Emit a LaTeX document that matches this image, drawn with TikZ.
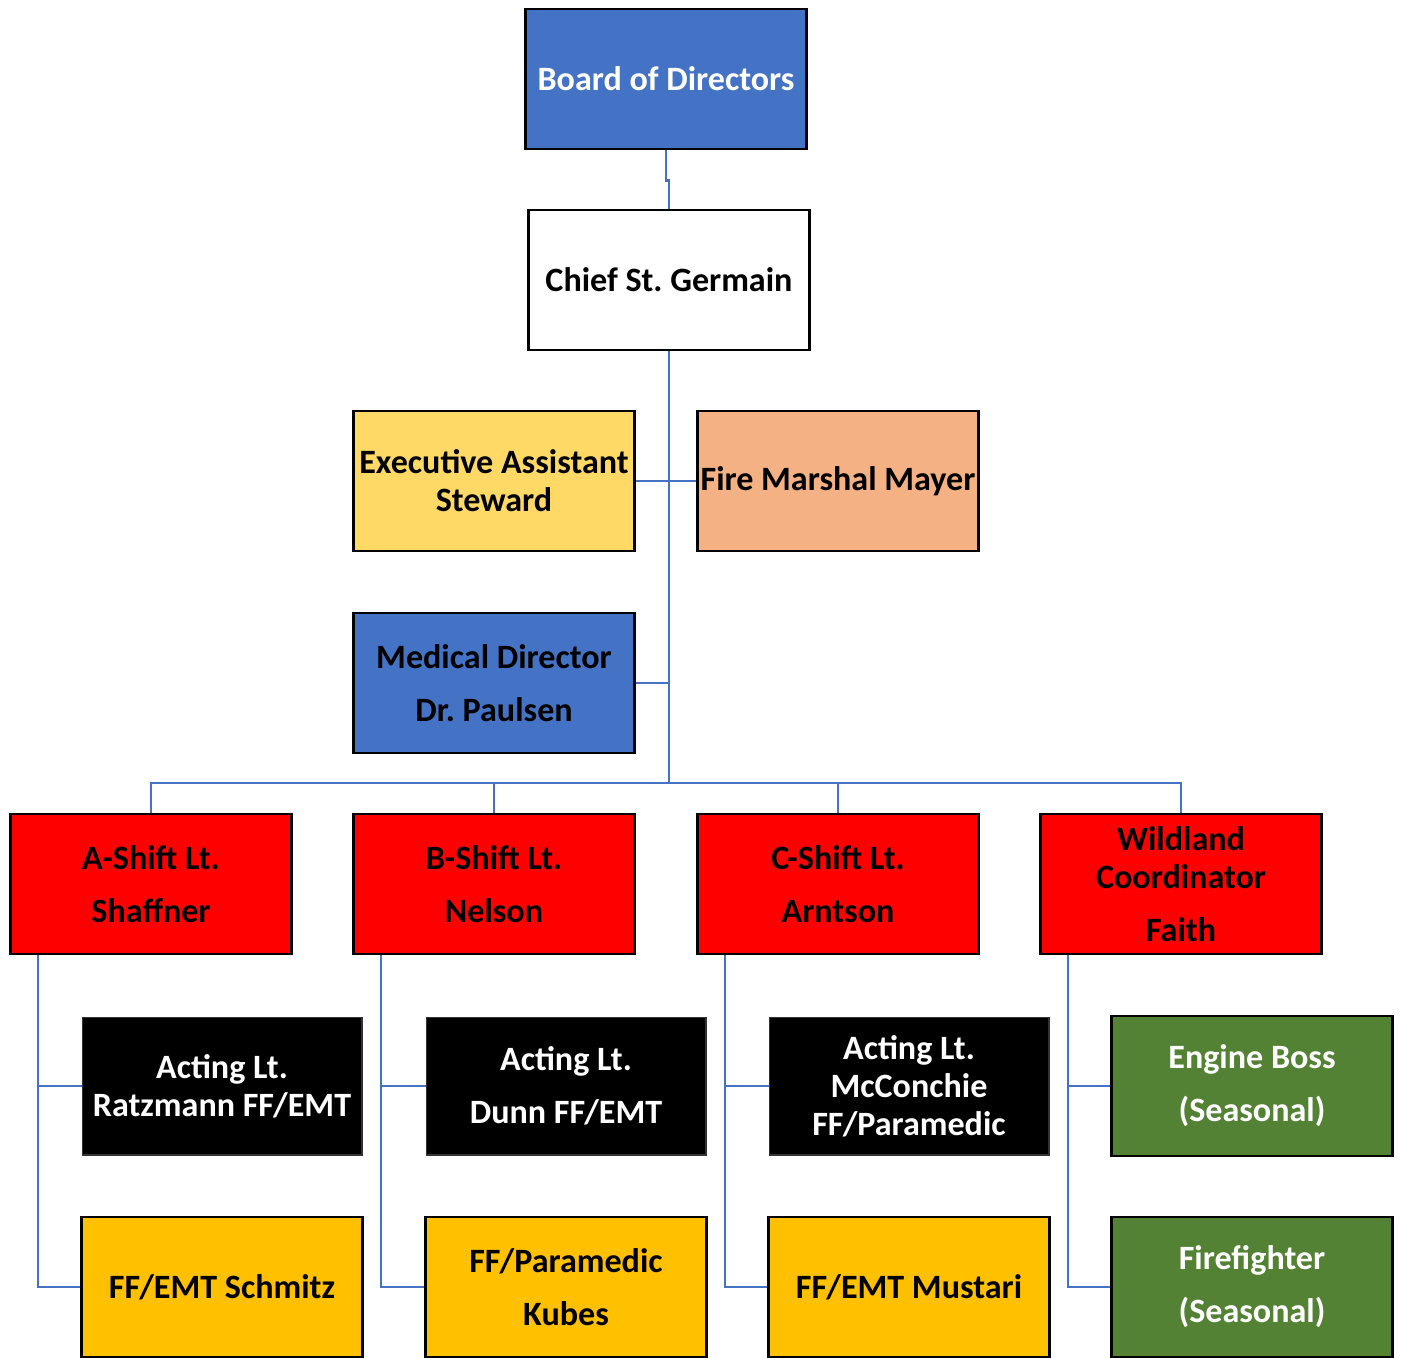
\documentclass[tikz,border=0pt]{standalone}
\usepackage{fontspec}
\setmainfont{Carlito}
\usetikzlibrary{backgrounds}

\definecolor{orgblue}{HTML}{4472C4}
\definecolor{execyellow}{HTML}{FFD966}
\definecolor{peach}{HTML}{F4B183}
\definecolor{shiftred}{HTML}{FF0000}
\definecolor{crewgold}{HTML}{FFC000}
\definecolor{wildgreen}{HTML}{548235}

\begin{document}
\begin{tikzpicture}[x=0.02cm, y=-0.02cm,
  box/.style={draw=black, line width=1.6pt, minimum width=5.62cm, minimum height=2.8cm,
    inner sep=0pt, align=center, font=\bfseries\fontsize{19.4}{21.6}\selectfont\frenchspacing},
  actbox/.style={box, fill=black, text=white, draw=black!80, line width=0.6pt,
    minimum width=5.6cm, minimum height=2.76cm},
  link/.style={draw=orgblue, line width=1.3pt}]
\clip (0,0) rectangle (1403,1357);
\coordinate (hub) at (669,783);
% top of the chart
\node[box, fill=orgblue, text=white] (board) at (666,79) {Board of Directors};
\node[box, fill=white] (chief) at (669,280) {Chief St. Germain};
\node[box, fill=execyellow] (exec) at (494,481) {Executive Assistant\\Steward};
\node[box, fill=peach] (marshal) at (838,481) {Fire Marshal Mayer};
\node[box, fill=orgblue] (medical) at (494,683) {Medical Director\\[8.6pt]Dr. Paulsen};
% shifts
\node[box, fill=shiftred] (shiftA) at (151,884) {A-Shift Lt.\\[8.6pt]Shaffner};
\node[box, fill=shiftred] (shiftB) at (494,884) {B-Shift Lt.\\[8.6pt]Nelson};
\node[box, fill=shiftred] (shiftC) at (838,884) {C-Shift Lt.\\[8.6pt]Arntson};
\node[box, fill=shiftred] (wild) at (1181,884) {Wildland\\Coordinator\\[8.6pt]Faith};
% crews
\node[actbox] (actA) at (222,1086) {Acting Lt.\\Ratzmann FF/EMT};
\node[actbox] (actB) at (566,1086) {Acting Lt.\\[8.6pt]Dunn FF/EMT};
\node[actbox] (actC) at (909,1086) {Acting Lt.\\McConchie\\FF/Paramedic};
\node[box, fill=wildgreen, text=white] (boss) at (1252,1086) {Engine Boss\\[8.6pt](Seasonal)};
\node[box, fill=crewgold] (ffA) at (222,1287) {FF/EMT Schmitz};
\node[box, fill=crewgold] (ffB) at (566,1287) {FF/Paramedic\\[8.6pt]Kubes};
\node[box, fill=crewgold] (ffC) at (909,1287) {FF/EMT Mustari};
\node[box, fill=wildgreen, text=white] (ffW) at (1252,1287) {Firefighter\\[8.6pt](Seasonal)};

\begin{scope}[on background layer]
\draw[link] (board.south) -- ++(0,30) -| (chief.north);
\draw[link] (chief.south) -- (hub);
\draw[link] (exec.east) -- (marshal.west);
\draw[link] (medical.east) -- (medical.east -| hub);
\foreach \s in {shiftA,shiftB,shiftC,wild}
  \draw[link] (hub) -| (\s.north);
\foreach \s/\a/\f in {shiftA/actA/ffA, shiftB/actB/ffB, shiftC/actC/ffC, wild/boss/ffW} {
  \draw[link] ([xshift=0.58cm]\s.south west) |- (\a.west);
  \draw[link] ([xshift=0.58cm]\s.south west) |- (\f.west);
}
\end{scope}
\end{tikzpicture}
\end{document}
